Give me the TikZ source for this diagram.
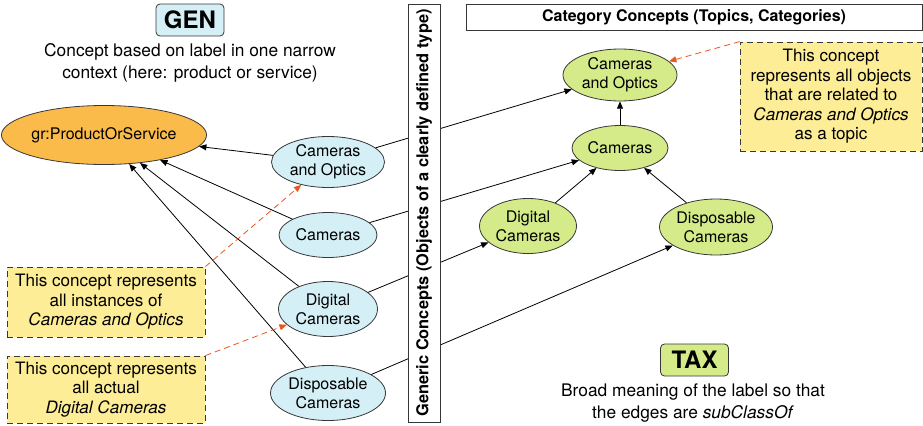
\documentclass[tikz,border=0pt]{standalone}
\usepackage{fontspec}
\setmainfont{TeX Gyre Heros}
\usepackage{tikz}
\tikzset{every picture/.style={line width=0.6pt}}
\usetikzlibrary{shapes}
\usetikzlibrary{arrows.meta}

\definecolor{genblue}{RGB}{212,239,245}
\definecolor{prodorange}{RGB}{251,187,74}
\definecolor{taxgreen}{RGB}{213,235,137}
\definecolor{noteyellow}{RGB}{252,237,150}
\definecolor{hintred}{RGB}{236,84,34}
\definecolor{edgegray}{RGB}{55,55,55}

\tikzset{
  concept/.style={ellipse, draw=edgegray, inner sep=0pt, align=center, font=\fontsize{12}{14.5}\selectfont},
  genconcept/.style={concept, fill=genblue},
  taxconcept/.style={concept, fill=taxgreen},
  notebox/.style={draw=edgegray, dash pattern=on 4.5pt off 3pt, fill=noteyellow, align=center, inner sep=0pt, font=\fontsize{12.8}{14.6}\selectfont},
  titlebox/.style={draw=edgegray, rounded corners=3pt, inner sep=0pt, minimum width=51pt, minimum height=24pt, font=\fontsize{18}{20}\selectfont\bfseries},
  caption/.style={align=center, inner sep=0pt, font=\fontsize{13}{16.5}\selectfont},
  rel/.style={-{Triangle[length=5.5pt,width=4.5pt]}},
  hint/.style={hintred, dash pattern=on 4.5pt off 3pt, -{Triangle[length=5.5pt,width=4.5pt]}},
}

\begin{document}
\begin{tikzpicture}[x=0.75pt,y=0.75pt,yscale=-1]
\useasboundingbox (0,0) rectangle (923,425);

% Titles
\node [titlebox, fill=genblue] (gen) at (190,20) {GEN};
\node [caption] (gentext) at (190,63) {Concept based on label in one narrow\\context (here: product or service)};
\node [titlebox, fill=taxgreen] (tax) at (694.5,360) {TAX};
\node [caption] (taxtext) at (693,403) {Broad meaning of the label so that\\the edges are \textit{subClassOf}};
\node [draw=edgegray, inner sep=0pt, minimum width=342pt, minimum height=19.5pt, font=\fontsize{12}{14}\selectfont\bfseries] (catbox) at (694,17) {Category Concepts (Topics, Categories)};

%Shape: Ellipse
\node [concept, fill=prodorange, minimum width=148.5pt, minimum height=44.25pt] (prod) at (104,135) {gr:ProductOrService};

% Generic concepts
\node [genconcept, minimum width=84.75pt, minimum height=38.25pt] (gco) at (328,162) {Cameras\\and Optics};
\node [genconcept, minimum width=73.5pt, minimum height=33.75pt] (gcam) at (328,235) {Cameras};
\node [genconcept, minimum width=74.25pt, minimum height=41.25pt] (gdig) at (328,309) {Digital\\Cameras};
\node [genconcept, minimum width=86.25pt, minimum height=41.25pt] (gdisp) at (328,393) {Disposable\\Cameras};

% Category concepts
\node [taxconcept, minimum width=85.5pt, minimum height=39pt] (tco) at (620,75) {Cameras\\and Optics};
\node [taxconcept, minimum width=72pt, minimum height=33.75pt] (tcam) at (620,148) {Cameras};
\node [taxconcept, minimum width=72.75pt, minimum height=41.25pt] (tdig) at (528,226) {Digital\\Cameras};
\node [taxconcept, minimum width=84.75pt, minimum height=42pt] (tdisp) at (716,227) {Disposable\\Cameras};

% Notes
\node [notebox, minimum width=148.5pt, minimum height=52.5pt] (note1) at (106,302) {This concept represents\\all instances of\\\textit{Cameras and Optics}};
\node [notebox, minimum width=148.5pt, minimum height=50.25pt] (note2) at (106,389.5) {This concept represents\\all actual\\\textit{Digital Cameras}};
\node [notebox, minimum width=136.5pt, minimum height=81.75pt] (note3) at (831,96.5) {This concept\\represents all objects\\that are related to\\\textit{Cameras and Optics}\\as a topic};

%Straight Lines
\draw [rel] (gco) -- (prod);
\draw [rel] (gcam) -- (prod);
\draw [rel] (gdig) -- (prod);
\draw [rel] (gdisp) -- (prod);
\draw [rel] (gco) -- (tco);
\draw [rel] (gcam) -- (tcam);
\draw [rel] (gdig) -- (tdig);
\draw [rel] (gdisp) -- (tdisp);
\draw [rel] (tcam) -- (tco);
\draw [rel] (tdig) -- (tcam);
\draw [rel] (tdisp) -- (tcam);

% Dashed hints
\draw [hint] (note1.north east) -- (gco);
\draw [hint] (note2.north east) -- (gdig);
\draw [hint] (note3.north west) -- (tco);

% Vertical box
\node [draw=edgegray, fill=white, rotate=90, inner sep=0pt, minimum width=313.5pt, minimum height=24pt, font=\fontsize{12.3}{14}\selectfont\bfseries] (genbox) at (424,213) {Generic Concepts (Objects of a clearly defined type)};
\end{tikzpicture}
\end{document}
